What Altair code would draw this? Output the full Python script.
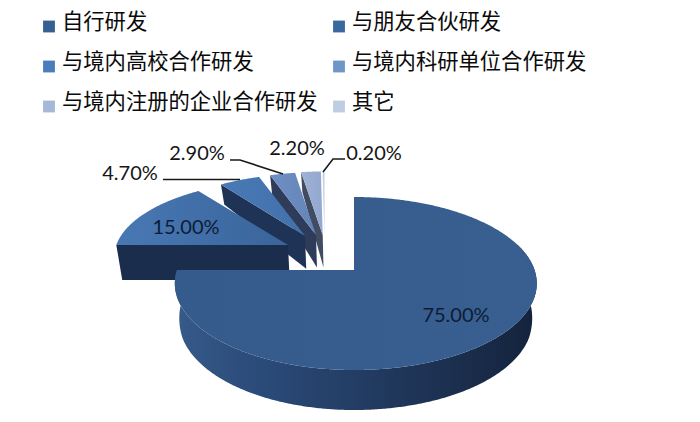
import numpy as np
import pandas as pd
import altair as alt

categories = ["自行研发", "与朋友合伙研发", "与境内高校合作研发", "与境内科研单位合作研发", "与境内注册的企业合作研发", "其它"]
shares = [75.0, 15.0, 4.7, 2.9, 2.2, 0.2]
value_labels = ["75.00%", "15.00%", "4.70%", "2.90%", "2.20%", "0.20%"]
legend_colors = ["#376092", "#39679f", "#4a7ebb", "#7096c8", "#a6b8d8", "#bfcde2"]
top_stops = [("#345b8c", "#385f90"), ("#4878b3", "#3a649b"), ("#4a7ab6", "#4170aa"),
             ("#6f90c4", "#6484b8"), ("#9fb2d6", "#93a8cf"), ("#c3cfe3", "#c3cfe3")]
wall_colors = ["#24416b", "#1b2d4c", "#1f3356", "#2e3b59", "#414c63", "#9aa3b4"]

# page geometry of the drawing
W, H, M = 684, 406, 8
CX, CY, RX, RY, PERSP = 354.0, 270.0, 177.0, 84.4, 0.156
# slice explosion: apex on the page and shrink factors (far slices are smaller)
apex = [(354, 270), (288, 245), (305, 236), (316, 235), (322.7, 235), (324.5, 235)]
shrink = [(1, 1), (0.97, 0.89), (0.91, 0.85), (0.91, 0.86), (0.94, 0.87), (0.94, 0.87)]


def on_rim(theta_deg):
    t = np.radians(theta_deg)
    X, Y = np.sin(t), np.cos(t)
    w = 1 + PERSP * Y
    dx = RX * X / w * np.where(X > 0, 1.02, 1.0)
    dy = -RY * Y / w
    return dx, dy


def bottom(x, y):
    x, y = np.asarray(x, float), np.asarray(y, float)
    depth = np.interp(y, [185, 245, 275, 300, 370], [20, 35, 33, 38, 40])
    return CX + (x - CX) * 0.975, y + depth


def sector(i, a0, a1):
    th = np.linspace(a0, a1, max(int((a1 - a0) * 2), 2) + 1)
    dx, dy = on_rim(th)
    return apex[i][0] + dx * shrink[i][0], apex[i][1] + dy * shrink[i][1]


def poly(xs, ys):
    ring = [[float(a) - M, float(b) - M] for a, b in zip(xs, ys)]
    ring.append(ring[0])
    return alt.Data(values=[{"type": "Feature", "properties": {},
                             "geometry": {"type": "Polygon", "coordinates": [ring]}}])


def shape(xs, ys, fill):
    return alt.Chart(poly(xs, ys)).mark_geoshape(fill=fill, strokeWidth=0).project(
        type="identity", scale=1, translate=[0, 0])


def grad(stops, x1=0, x2=1):
    return alt.LinearGradient(gradient="linear", x1=x1, y1=0, x2=x2, y2=0,
                              stops=[alt.GradientStop(color=c, offset=o) for c, o in stops])


starts = np.concatenate([[0], np.cumsum(shares)[:-1]]) * 3.6
ends = np.cumsum(shares) * 3.6
layers = []
for i in [5, 4, 3, 2, 1, 0]:
    a0, a1 = starts[i], ends[i]
    xs, ys = sector(i, a0, a1)
    ax, ay = apex[i]
    if i == 0:
        # curved front wall of the large slice
        tx, ty = sector(0, 72, a1)
        bx, by = bottom(tx, ty)
        wall = grad([("#365a8a", 0), ("#2a4a78", 0.25), ("#1f3558", 0.65), ("#14233c", 1)])
        layers.append(shape(np.r_[tx, bx[::-1]], np.r_[ty, by[::-1]], wall))
    else:
        ox, oy = xs[0], ys[0]
        bx, by = bottom([ax, ox], [ay, oy])
        layers.append(shape([ax, ox, bx[1], bx[0]], [ay, oy, by[1], by[0]], wall_colors[i]))
    layers.append(shape(np.r_[ax, xs], np.r_[ay, ys],
                        grad([(top_stops[i][0], 0), (top_stops[i][1], 1)])))

xscale = alt.Scale(domain=[M, M + W], range=[0, W])
yscale = alt.Scale(domain=[M, M + H], range=[0, H])
X = lambda f: alt.X(f, type="quantitative", scale=xscale, axis=None)
Y = lambda f: alt.Y(f, type="quantitative", scale=yscale, axis=None)

# legend: two columns, three rows
leg = pd.DataFrame({"name": categories, "i": range(6)})
leg["sx"] = 49 + (leg.i % 2) * 290
leg["sy"] = 26.5 + (leg.i // 2) * 40
leg["tx"] = leg.sx + 13
leg["ty"] = leg.sy - 3.5
squares = alt.Chart(leg).mark_square(size=140, opacity=1).encode(
    x=X("sx"), y=Y("sy"),
    color=alt.Color("name:N", scale=alt.Scale(domain=categories, range=legend_colors), legend=None))
names = alt.Chart(leg).mark_text(align="left", baseline="middle", font="Noto Sans CJK SC",
                                 fontSize=21.3, color="#0a0a0a").encode(
    x=X("tx"), y=Y("ty"), text="name:N")

# value labels
lab = pd.DataFrame({"t": value_labels,
                    "x": [456, 186, 130, 197, 297, 374],
                    "y": [316, 228, 174, 154, 149, 154],
                    "c": ["#0d1c36", "#0d1c36", "#151515", "#151515", "#151515", "#151515"]})
labels = alt.Chart(lab).mark_text(font="Lato", fontSize=20, align="center", baseline="middle").encode(
    x=X("x"), y=Y("y"), text="t:N", color=alt.Color("c:N", scale=None))

# leader lines
lead = pd.DataFrame({"g": [0, 0, 1, 1, 1, 2, 2, 2],
                     "o": [0, 1, 0, 1, 2, 0, 1, 2],
                     "x": [163, 240, 230, 240, 283, 345, 333, 323],
                     "y": [179.5, 179.5, 160, 160, 174, 159, 159, 172]})
leaders = alt.Chart(lead).mark_line(color="#1a1a1a", strokeWidth=1.6).encode(
    x=X("x"), y=Y("y"), detail="g:N", order="o:Q")

chart = alt.layer(*layers, squares, names, leaders, labels).properties(
    width=W, height=H, padding=0, autosize=alt.AutoSizeParams(type="none")
).configure_view(stroke=None)

chart.save("out.html", embed_options={"renderer": "svg", "actions": False})
